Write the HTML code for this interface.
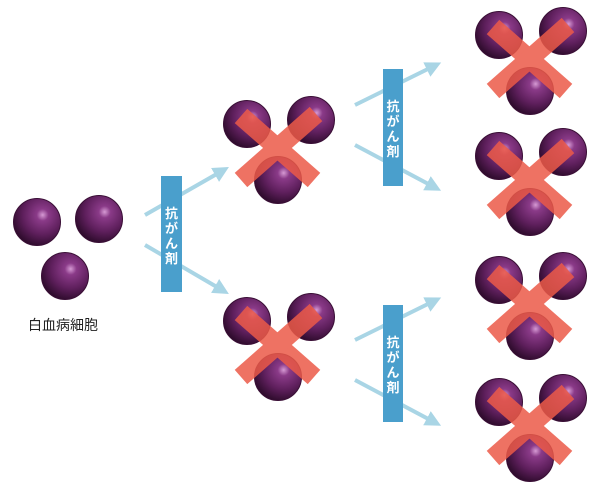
<!DOCTYPE html>
<html><head><meta charset="utf-8"><style>
html,body{margin:0;padding:0;background:#fff;width:600px;height:497px;overflow:hidden}
svg{display:block}
</style></head><body>
<svg width="600" height="497" viewBox="0 0 600 497" xmlns="http://www.w3.org/2000/svg">
<defs>
<radialGradient id="cg" cx="0.62" cy="0.35" r="0.7">
<stop offset="0" stop-color="#d69ad4"/>
<stop offset="0.18" stop-color="#8a3a88"/>
<stop offset="0.6" stop-color="#5e1f5c"/>
<stop offset="1" stop-color="#2a0a28"/>
</radialGradient>
<g id="cell"><circle r="23.5" fill="url(#cg)" stroke="#3a0f36" stroke-width="1"/></g>
<g id="grp">
<use href="#cell" x="-31" y="-56"/>
<use href="#cell" x="33" y="-60"/>
<use href="#cell" x="0" y="0"/>
<g opacity="0.85" stroke="#ec5a48" stroke-width="19">
<line x1="-37" y1="-64" x2="36" y2="0"/>
<line x1="38" y1="-66" x2="-37" y2="0"/>
</g>
</g>
<marker id="ah" markerWidth="4" markerHeight="4" refX="2" refY="2" orient="auto" markerUnits="strokeWidth"><path d="M0,0 L4,2 L0,4 Z" fill="#a9d5e5"/></marker>
</defs>
<g stroke="#a9d5e5" stroke-width="4" fill="none" marker-end="url(#ah)">
<line x1="145" y1="215" x2="222" y2="171"/>
<line x1="145" y1="245" x2="222" y2="290"/>
<line x1="355" y1="105" x2="434" y2="66"/>
<line x1="355" y1="145" x2="434" y2="187"/>
<line x1="355" y1="340" x2="434" y2="301"/>
<line x1="355" y1="380" x2="434" y2="422"/>
</g>
<use href="#cell" x="37" y="222"/>
<use href="#cell" x="99" y="219"/>
<use href="#cell" x="65" y="276"/>
<text x="63" y="330" text-anchor="middle" font-family="Liberation Sans, Noto Sans CJK JP, sans-serif" font-size="14" fill="#222">白血病細胞</text>
<use href="#grp" x="278" y="180"/>
<use href="#grp" x="278" y="377"/>
<use href="#grp" x="530" y="91"/>
<use href="#grp" x="530" y="212"/>
<use href="#grp" x="530" y="336"/>
<use href="#grp" x="530" y="458"/>
<g fill="#4a9fcc">
<rect x="161" y="176" width="21" height="116"/>
<rect x="383" y="69" width="20" height="117"/>
<rect x="383" y="305" width="20" height="117"/>
</g>
<g font-family="Liberation Sans, Noto Sans CJK JP, sans-serif" font-size="13" font-weight="bold" fill="#fff" text-anchor="middle">
<text x="171.5" y="218">抗</text><text x="171.5" y="233">が</text><text x="171.5" y="248">ん</text><text x="171.5" y="263">剤</text>
<text x="393" y="111">抗</text><text x="393" y="126">が</text><text x="393" y="141">ん</text><text x="393" y="156">剤</text>
<text x="393" y="347">抗</text><text x="393" y="362">が</text><text x="393" y="377">ん</text><text x="393" y="392">剤</text>
</g>
</svg>
</body></html>
